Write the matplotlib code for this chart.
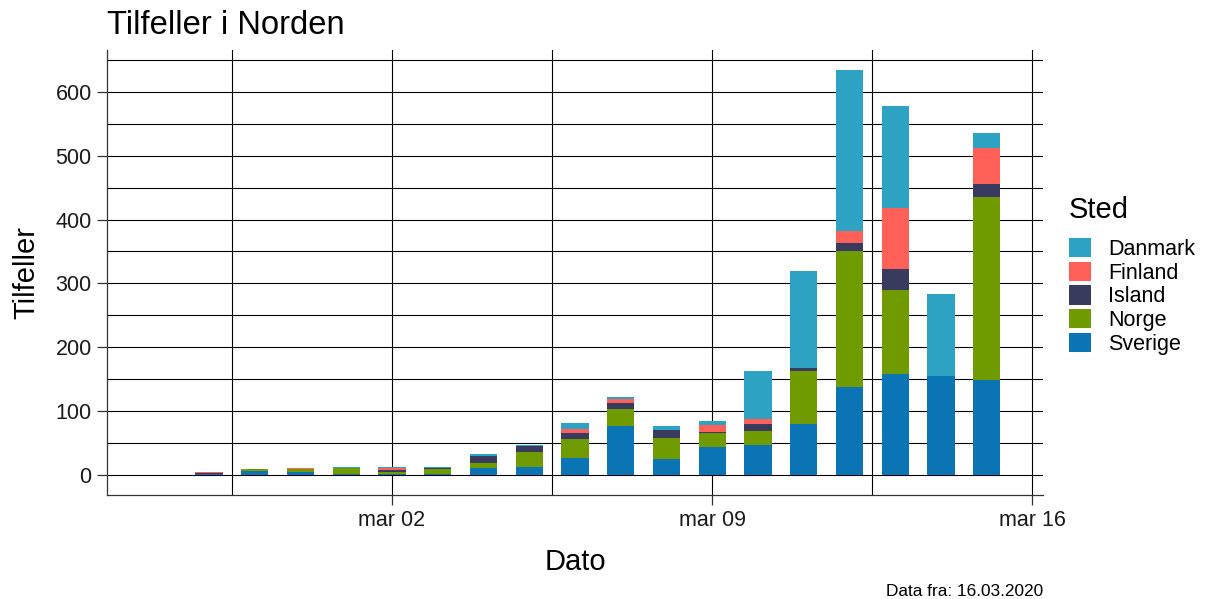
import matplotlib
matplotlib.use('Agg')

import numpy as np
import matplotlib.pyplot as plt
import matplotlib.dates as mdates
from matplotlib.ticker import MultipleLocator, FixedLocator, FuncFormatter
from datetime import datetime, timedelta

plt.rcParams['font.family'] = ['Liberation Sans', 'DejaVu Sans']

# daily new cases, Feb 26 - Mar 15 2020
dates = [datetime(2020, 2, 26) + timedelta(days=i) for i in range(19)]
sverige = [0, 1, 6, 5, 1, 2, 2, 10, 12, 27, 76, 25, 44, 47, 80, 137, 158, 155, 149]
norge = [0, 0, 3, 4, 10, 3, 7, 9, 23, 29, 27, 33, 21, 22, 83, 213, 132, 0, 286]
island = [0, 2, 0, 0, 0, 3, 2, 10, 10, 10, 9, 12, 2, 10, 5, 14, 33, 0, 21]
finland = [0, 1, 0, 2, 0, 2, 0, 0, 0, 5, 7, 0, 11, 9, 0, 18, 95, 0, 56]
danmark = [0, 1, 0, 0, 1, 2, 1, 3, 2, 10, 3, 6, 6, 74, 151, 252, 160, 128, 23]

# stacking order bottom -> top
series = [
    ('Sverige', sverige, '#0b74b5'),
    ('Norge', norge, '#6f9a00'),
    ('Island', island, '#383a5e'),
    ('Finland', finland, '#ff6058'),
    ('Danmark', danmark, '#2ea2c2'),
]


def month_label(x, pos=None):
    d = mdates.num2date(x)
    return 'mar %02d' % d.day if d.month == 3 else d.strftime('%b %d').lower()


def main():
    fig = plt.figure(figsize=(12.09, 5.99), dpi=100)
    ax = fig.add_axes([0.0885, 0.1736, 0.7742, 0.7429])

    x = mdates.date2num(dates)
    width = 0.6
    bottom = np.zeros(len(x))
    handles = {}
    for name, vals, col in series:
        vals = np.array(vals, dtype=float)
        bars = ax.bar(x, vals, width=width, bottom=bottom, color=col,
                      edgecolor='none', linewidth=0, zorder=3)
        handles[name] = bars
        bottom += vals

    # ggplot-like expansion (5%)
    lo, hi = x[0] - width / 2, x[-1] + width / 2
    pad = 0.05 * (hi - lo)
    ax.set_xlim(lo - pad, hi + pad)
    top = bottom.max()
    ax.set_ylim(-0.05 * top, 1.05 * top)

    ax.xaxis.set_major_locator(mdates.WeekdayLocator(byweekday=mdates.MO))
    ax.xaxis.set_major_formatter(FuncFormatter(month_label))
    majors = ax.xaxis.get_major_locator()()
    minors = [m - 3.5 for m in majors] + [majors[-1] + 3.5]
    ax.xaxis.set_minor_locator(FixedLocator(minors))
    ax.yaxis.set_major_locator(MultipleLocator(100))
    ax.yaxis.set_minor_locator(MultipleLocator(50))

    ax.grid(True, which='both', color='black', linewidth=0.8, zorder=0)
    ax.set_axisbelow(True)
    for s in ['top', 'right']:
        ax.spines[s].set_visible(False)
    for s in ['left', 'bottom']:
        ax.spines[s].set_color('#333333')
        ax.spines[s].set_linewidth(0.9)

    ax.tick_params(axis='both', which='major', length=7, width=0.9,
                   color='#333333', labelsize=15.5, labelcolor='#1a1a1a', pad=4)
    ax.tick_params(axis='both', which='minor', length=0)

    ax.set_xlabel('Dato', fontsize=21, labelpad=12)
    ax.set_ylabel('Tilfeller', fontsize=21, labelpad=11)

    fig.text(0.0885, 1 - 25 / 599, 'Tilfeller i Norden', fontsize=23.6,
             va='center', ha='left')
    fig.text(1043 / 1209, 1 - 591 / 599, 'Data fra: 16.03.2020', fontsize=12.4,
             va='center', ha='right')

    order = ['Danmark', 'Finland', 'Island', 'Norge', 'Sverige']
    leg = fig.legend([handles[n] for n in order], order, title='Sted',
                     loc='upper left', bbox_to_anchor=(1069 / 1209, 1 - 196 / 599),
                     frameon=False, fontsize=15.5, title_fontsize=21,
                     handlelength=1.02, handleheight=1.0, labelspacing=0.08,
                     handletextpad=0.8, borderaxespad=0, borderpad=0)
    leg._legend_box.align = 'left'
    leg._legend_box.sep = 10

    fig.savefig('out.png', dpi=100)


if __name__ == '__main__':
    main()
